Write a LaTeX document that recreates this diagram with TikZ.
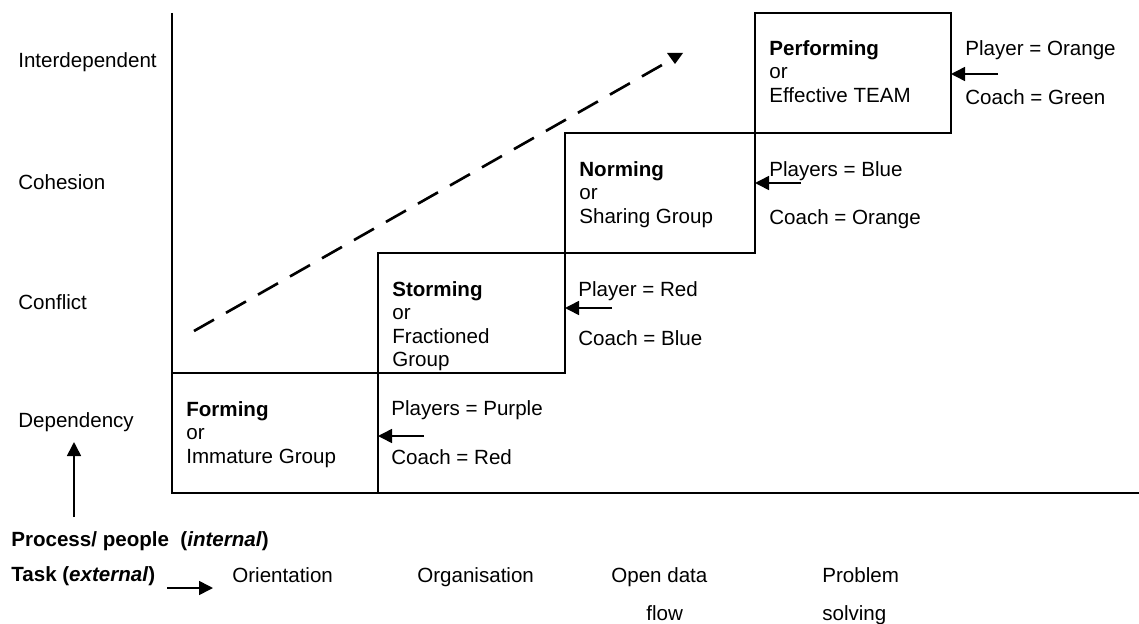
\documentclass[tikz,border=0pt]{standalone}
\usepackage{fontspec}
\setmainfont{Liberation Sans}
\usetikzlibrary{arrows.meta, positioning, calc}

\begin{document}
\begin{tikzpicture}[
    font=\fontsize{11.7}{13.4}\selectfont,
    stagebox/.style={draw, line width=1.1pt, minimum height=2.4cm,
                     inner sep=0pt, outer sep=0pt, anchor=south west},
    stagetext/.style={inner sep=0pt, align=left},
    notetext/.style={anchor=west, inner sep=0pt},
    levellabel/.style={anchor=west, inner sep=0pt},
    tasklabel/.style={anchor=base west, inner sep=0pt},
    notearrow/.style={-{Triangle[length=0.28cm, width=0.28cm]}, line width=0.9pt},
    trend/.style={dash pattern=on 0.46cm off 0.276cm, line width=1.5pt},
  ]
  \useasboundingbox (0,0) rectangle (22.78,12.46);

  %% Staircase of stages (bottom left to top right)
  \node[stagebox, minimum width=4.12cm] (form) at (3.44,2.60) {};
  \node[stagebox, minimum width=3.74cm] (storm) at (form.north east) {};
  \node[stagebox, minimum width=3.80cm] (norm) at (storm.north east) {};
  \node[stagebox, minimum width=3.92cm] (perf) at (norm.north east) {};

  \node[stagetext, below right=0.56cm and 0.28cm of form.north west] (formtxt)
    {\textbf{Forming}\\or\\Immature Group};
  \node[stagetext, below right=0.56cm and 0.28cm of storm.north west] (stormtxt)
    {\textbf{Storming}\\or\\Fractioned\\Group};
  \node[stagetext, below right=0.56cm and 0.28cm of norm.north west] (normtxt)
    {\textbf{Norming}\\or\\Sharing Group};
  \node[stagetext, below right=0.54cm and 0.28cm of perf.north west] (perftxt)
    {\textbf{Performing}\\or\\Effective TEAM};

  %% Axes
  \coordinate (xend) at (22.78,2.60);
  \draw[line width=1.1pt] (perf.north -| form.west) -- (form.south west) -- (xend);

  %% Levels
  \node[levellabel] (lvlfour) at (0.36,11.22) {Interdependent};
  \node[levellabel] (lvlthree) at (0.36,8.82) {Cohesion};
  \node[levellabel] (lvltwo) at (0.36,6.42) {Conflict};
  \node[levellabel] (lvlone) at (0.36,4.02) {Dependency};

  %% Colour notes beside each stage
  \node[notetext] (formplayer) at ($(form.north east)+(0.26,-0.74)$) {Players = Purple};
  \node[notetext] (formcoach) at ($(form.north east)+(0.26,-1.68)$) {Coach = Red};
  \node[notetext] (stormplayer) at ($(storm.north east)+(0.26,-0.76)$) {Player = Red};
  \node[notetext] (stormcoach) at ($(storm.north east)+(0.26,-1.70)$) {Coach = Blue};
  \node[notetext] (normplayer) at ($(norm.north east)+(0.28,-0.76)$) {Players = Blue};
  \node[notetext] (normcoach) at ($(norm.north east)+(0.28,-1.72)$) {Coach = Orange};
  \node[notetext] (perfplayer) at ($(perf.north east)+(0.28,-0.74)$) {Player = Orange};
  \node[notetext] (perfcoach) at ($(perf.north east)+(0.28,-1.68)$) {Coach = Green};

  \coordinate (formin) at ($(form.north east)+(0.92,-1.26)$);
  \coordinate (stormin) at ($(storm.north east)+(0.94,-1.10)$);
  \coordinate (normin) at ($(norm.north east)+(0.92,-1.00)$);
  \coordinate (perfin) at ($(perf.north east)+(0.94,-1.22)$);
  \draw[notearrow] (formin) -- (formin -| form.east);
  \draw[notearrow] (stormin) -- (stormin -| storm.east);
  \draw[notearrow] (normin) -- (normin -| norm.east);
  \draw[notearrow] (perfin) -- (perfin -| perf.east);

  %% Dashed trend with its head
  \coordinate (trendstart) at (3.88,5.84);
  \coordinate (trendend) at (13.24,11.16);
  \draw[trend] (trendstart) -- (trendend);
  \fill ($(trendend)+(0.10,0.24)$) -- ($(trendend)+(0.42,0.24)$)
        -- ($(trendend)+(0.26,0.02)$) -- cycle;

  %% Process and task
  \coordinate (procfrom) at (1.48,2.12);
  \coordinate (procto) at (1.48,3.62);
  \draw[notearrow] (procfrom) -- (procto);
  \node[levellabel] (process) at (0.22,1.64)
    {\textbf{Process/ people\ \ (\textit{internal})}};
  \node[levellabel] (task) at (0.22,0.94) {\textbf{Task (\textit{external})}};
  \coordinate (taskfrom) at (3.34,0.70);
  \coordinate (taskto) at (4.26,0.70);
  \draw[notearrow] (taskfrom) -- (taskto);

  \node[tasklabel] (orient) at (4.64,0.81) {Orientation};
  \node[tasklabel] (organ) at (8.34,0.81) {Organisation};
  \node[tasklabel] (opendata) at (12.22,0.81) {Open data};
  \node[tasklabel] (flow) at (12.92,0.06) {flow};
  \node[tasklabel] (problem) at (16.44,0.81) {Problem};
  \node[tasklabel] (solving) at (16.44,0.06) {solving};
\end{tikzpicture}
\end{document}
